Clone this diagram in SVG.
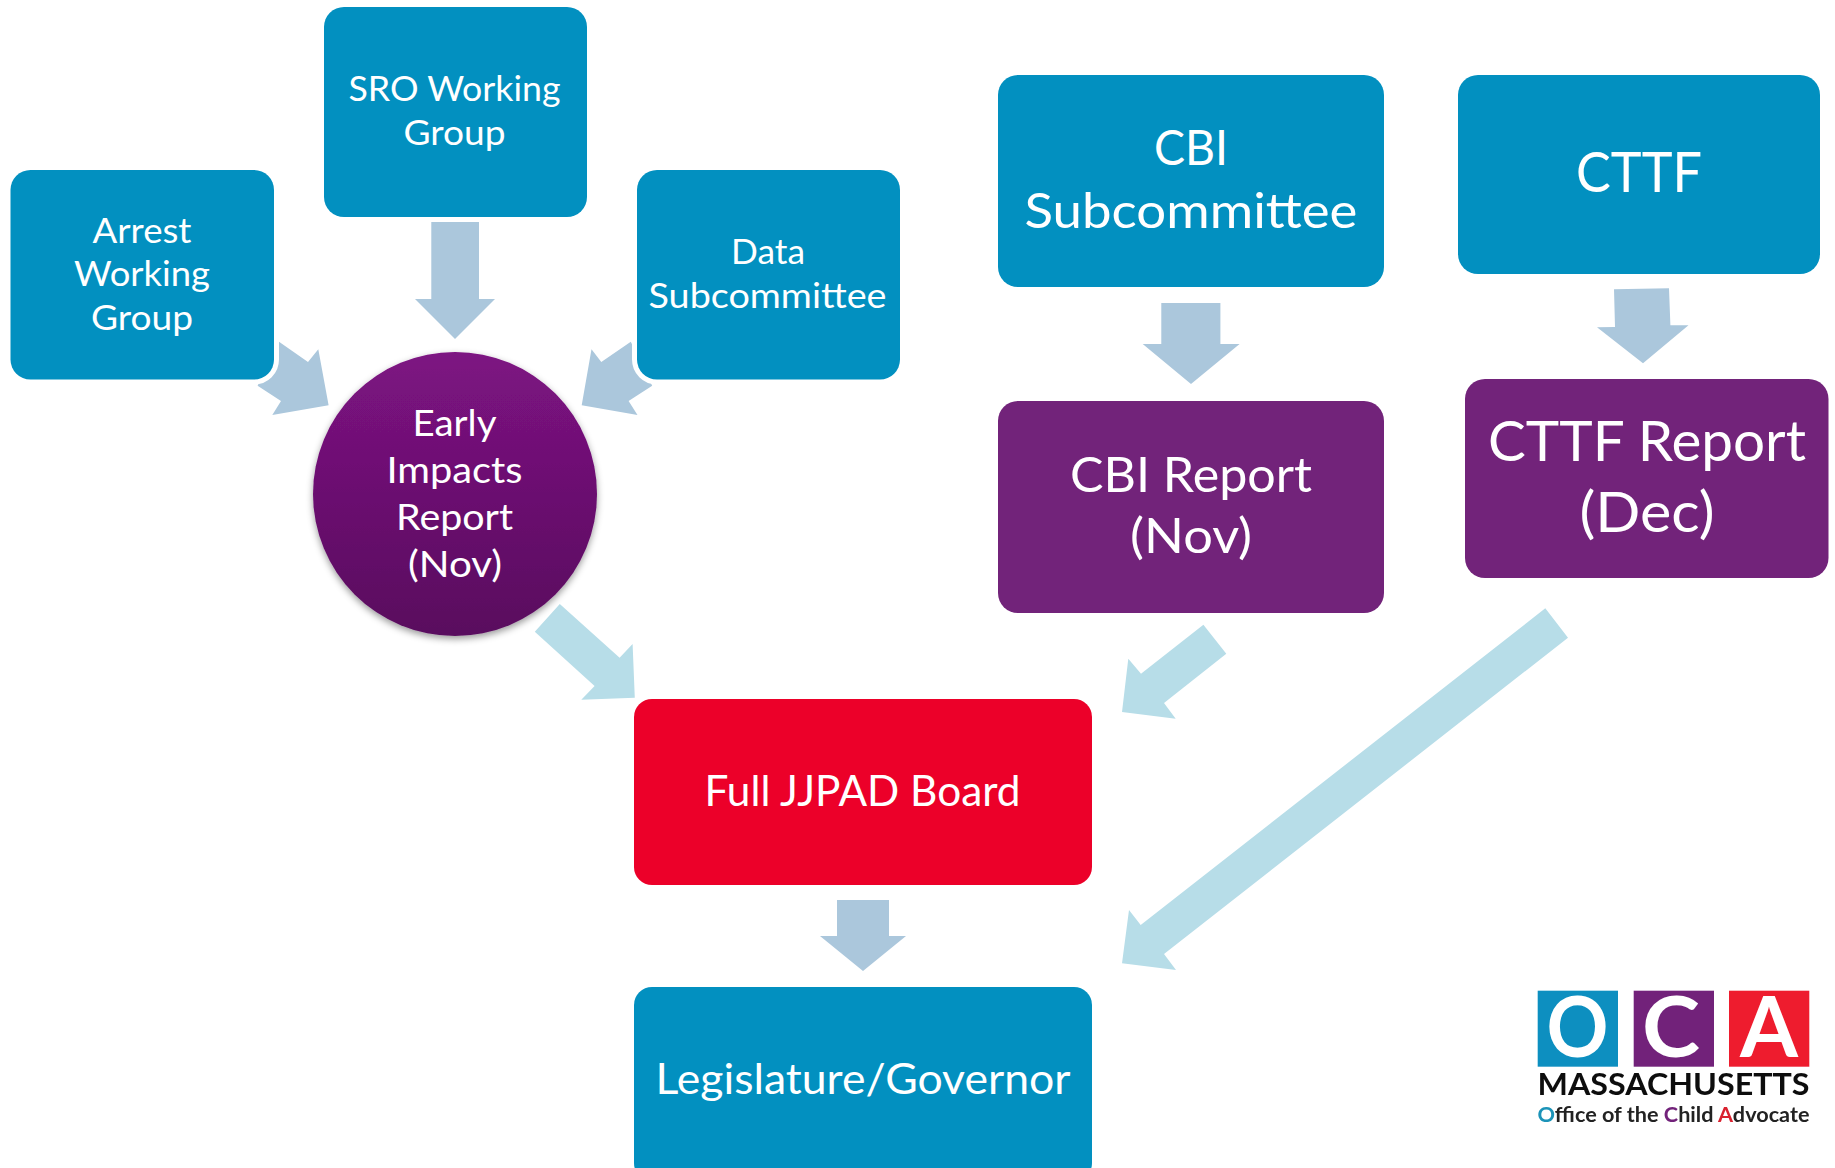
<svg xmlns="http://www.w3.org/2000/svg" width="1835" height="1168" viewBox="0 0 1835 1168">
<style>
text{font-family:"Lato","Open Sans","Noto Sans",sans-serif;fill:#fff;text-anchor:middle}
.blue{fill:#0290c0}.purple{fill:#72237a}.red{fill:#ec0029}
.halo{stroke:#fff;stroke-width:10;paint-order:stroke}
.steel{fill:#abc7dc}.pale{fill:#b7dde8}
.s34{font-size:34px}.s35{font-size:36px}.s42{font-size:43px}.s49{font-size:49px}.s56{font-size:56px}
.logo{font-family:"Lato","Liberation Sans",sans-serif}
</style>
<defs>
<linearGradient id="orb" x1="0" y1="0" x2="0" y2="1"><stop offset="0" stop-color="#7d1382"/><stop offset="1" stop-color="#590c5e"/></linearGradient>
<filter id="shadow" x="-20%" y="-20%" width="140%" height="140%"><feDropShadow dx="0" dy="3" stdDeviation="3.5" flood-color="#000" flood-opacity="0.4"/></filter>
<filter id="soft" x="-5%" y="-5%" width="110%" height="110%"><feGaussianBlur stdDeviation="0.45"/></filter>
</defs>
<g id="connectors">
<polygon class="steel" points="431.3,222 479,222 479,299 495,299 455,339 415,299 431.3,299"/>
<polygon class="steel" points="279,341.7 308,362 318.3,349.3 328.6,405.3 272.3,415 281,401 257.6,385.7"/>
<polygon class="steel" points="630.8,341.7 601.3,362 591.5,349.3 581.7,405.3 637.5,415 628.6,401 652.2,385.7"/>
<polygon class="steel" points="1161.3,303 1220.4,303 1220.4,344 1239.6,344 1191,384 1142.7,344 1161.3,344"/>
<polygon class="steel" points="1614,289.3 1669,288.3 1670.4,325.3 1688.5,325.3 1643,363.3 1597,327.3 1615,327"/>
<polygon class="steel" points="837,900 889,900 889,936 906,936 863,971 820,936 837,936"/>
<polygon class="pale" points="559.8,604 619.6,657.7 632.6,644 634.8,697.7 581.3,699.7 594.6,686 534.8,631.7"/>
<polygon class="pale" points="1203.4,624.7 1226.3,653.7 1164,703 1175.7,718.7 1122,712 1128.3,658.7 1141,673.7"/>
<polygon class="pale" points="1545.3,608.3 1568,637.7 1164,954 1176,970 1122,963.3 1129,910 1140.7,925"/>
</g>
<g id="node-arrest"><rect class="blue halo" x="10.5" y="170" width="263.5" height="209.5" rx="20"/>
<text class="s34" x="142" y="242.5" textLength="99" lengthAdjust="spacingAndGlyphs">Arrest</text>
<text class="s34" x="142" y="285.5" textLength="136" lengthAdjust="spacingAndGlyphs">Working</text>
<text class="s34" x="142" y="329.5" textLength="102" lengthAdjust="spacingAndGlyphs">Group</text></g>
<g id="node-sro"><rect class="blue" x="324" y="7" width="263" height="210" rx="20"/>
<text class="s34" x="454.5" y="101" textLength="212" lengthAdjust="spacingAndGlyphs">SRO Working</text>
<text class="s34" x="454.5" y="145" textLength="102" lengthAdjust="spacingAndGlyphs">Group</text></g>
<g id="node-data"><rect class="blue halo" x="637" y="170" width="263" height="209.5" rx="20"/>
<text class="s34" x="768" y="264" textLength="74" lengthAdjust="spacingAndGlyphs">Data</text>
<text class="s34" x="767.5" y="308" textLength="238" lengthAdjust="spacingAndGlyphs">Subcommittee</text></g>
<g id="node-early"><circle cx="455" cy="494" r="142" fill="url(#orb)" filter="url(#shadow)"/>
<text class="s35" x="454.5" y="436" textLength="84" lengthAdjust="spacingAndGlyphs">Early</text>
<text class="s35" x="454.5" y="483" textLength="136" lengthAdjust="spacingAndGlyphs">Impacts</text>
<text class="s35" x="454.5" y="530" textLength="117" lengthAdjust="spacingAndGlyphs">Report</text>
<text class="s35" x="455" y="577" textLength="94" lengthAdjust="spacingAndGlyphs">(Nov)</text></g>
<g id="node-cbi"><rect class="blue" x="998" y="75" width="386" height="212" rx="20"/>
<text class="s49" x="1191" y="165" textLength="74" lengthAdjust="spacingAndGlyphs">CBI</text>
<text class="s49" x="1191" y="227.5" textLength="333" lengthAdjust="spacingAndGlyphs">Subcommittee</text></g>
<g id="node-cttf"><rect class="blue" x="1458" y="75" width="362" height="199" rx="20"/>
<text class="s56" x="1639" y="192" textLength="126" lengthAdjust="spacingAndGlyphs">CTTF</text></g>
<g id="node-cbi-report"><rect class="purple" x="998" y="401" width="386" height="212" rx="20"/>
<text class="s49" x="1191" y="492" textLength="242" lengthAdjust="spacingAndGlyphs">CBI Report</text>
<text class="s49" x="1191" y="553" textLength="122" lengthAdjust="spacingAndGlyphs">(Nov)</text></g>
<g id="node-cttf-report"><rect class="purple" x="1465" y="379" width="363.5" height="199" rx="20"/>
<text class="s56" x="1647" y="461" textLength="318" lengthAdjust="spacingAndGlyphs">CTTF Report</text>
<text class="s56" x="1647" y="532" textLength="135" lengthAdjust="spacingAndGlyphs">(Dec)</text></g>
<g id="node-board"><rect class="red" x="634" y="699" width="458" height="186" rx="18"/>
<text class="s42" x="862.5" y="806" textLength="316" lengthAdjust="spacingAndGlyphs">Full JJPAD Board</text></g>
<g id="node-legislature"><rect class="blue" x="634" y="987" width="458" height="194" rx="18"/>
<text class="s42" x="863" y="1094" textLength="415" lengthAdjust="spacingAndGlyphs">Legislature/Governor</text></g>
<g id="logo" filter="url(#soft)">
<rect x="1537.7" y="990.7" width="80.3" height="76" fill="#0a8fc0"/>
<rect x="1633.7" y="990.7" width="80.3" height="76" fill="#72237a"/>
<rect x="1729" y="990.7" width="80.3" height="76" fill="#ee1c2e"/>
<text class="logo" x="1577.5" y="1057" font-size="84" font-weight="700" textLength="62" lengthAdjust="spacingAndGlyphs">O</text>
<text class="logo" x="1671" y="1057" font-size="84" font-weight="700" textLength="58" lengthAdjust="spacingAndGlyphs">C</text>
<text class="logo" x="1769" y="1057" font-size="84" font-weight="700" textLength="58" lengthAdjust="spacingAndGlyphs">A</text>
<text class="logo" x="1673.5" y="1095" font-size="30" font-weight="700" style="fill:#111" textLength="272" lengthAdjust="spacingAndGlyphs">MASSACHUSETTS</text>
<text class="logo" x="1673.5" y="1122" font-size="20" font-weight="700" style="fill:#222" textLength="272" lengthAdjust="spacingAndGlyphs"><tspan style="fill:#1a93b8">O</tspan>ffice of the <tspan style="fill:#72237a">C</tspan>hild <tspan style="fill:#d9202f">A</tspan>dvocate</text>
</g>
</svg>
